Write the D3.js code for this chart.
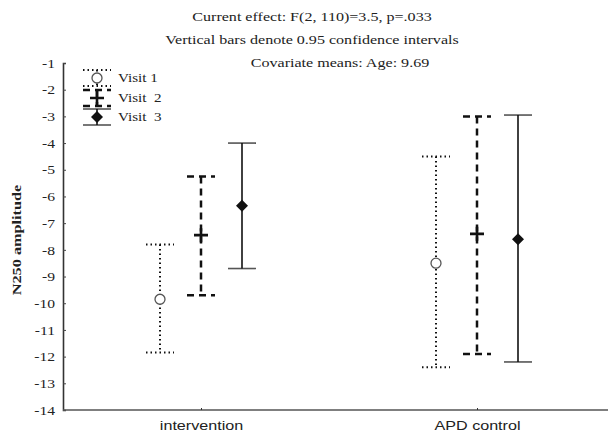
<!DOCTYPE html>
<html>
<head>
<meta charset="utf-8">
<script src="https://cdn.jsdelivr.net/npm/d3@7"></script>
<style>
  body { margin: 0; background: #fff; }
  svg { display: block; }
  .serif { font-family: "Liberation Serif", "DejaVu Serif", serif; }
</style>
</head>
<body>
<div id="chart"></div>
<script>
const groups = ["intervention", "APD control"];
const visits = ["Visit 1", "Visit  2", "Visit  3"];
const means = [[-9.85, -7.45, -6.35], [-8.5, -7.4, -7.6]];
const lower = [[-11.85, -9.7, -8.7], [-12.4, -11.9, -12.2]];
const upper = [[-7.8, -5.25, -4.0], [-4.5, -3.0, -2.95]];
const yTicks = d3.range(-1, -15, -1);

const width = 608, height = 438;
const svg = d3.select("#chart").append("svg")
    .attr("width", width)
    .attr("height", height);

const x = d3.scalePoint().domain(groups).range([63, 615]).padding(0.5);
const y = d3.scaleLinear().domain([-14, -1]).range([410, 63]);
const offset = d3.scalePoint().domain(visits).range([-41, 41]);

const styles = [
    { dash: "1.5,3", w: 2, cap: "#111" },
    { dash: "7,5", w: 2.5, cap: "#111" },
    { dash: null, w: 1.6, cap: "#555" }
];

// the source picture is stretched sideways, so widen the text to match
function stretch(sel, k) {
    sel.each(function () {
        const len = this.getComputedTextLength();
        d3.select(this).attr("textLength", len * k).attr("lengthAdjust", "spacingAndGlyphs");
    });
}

// titles
const titles = [
    { t: "Current effect: F(2, 110)=3.5, p=.033", x: 312, y: 21 },
    { t: "Vertical bars denote 0.95 confidence intervals", x: 312, y: 44 },
    { t: "Covariate means: Age: 9.69", x: 340, y: 67 }
];
const titleText = svg.selectAll("text.title").data(titles).enter().append("text")
    .attr("class", "title serif")
    .attr("x", d => d.x).attr("y", d => d.y)
    .attr("text-anchor", "middle")
    .attr("font-size", 13.5)
    .attr("fill", "#222")
    .text(d => d.t);
stretch(titleText, 1.19);

// y axis
const yAxis = svg.append("g")
    .attr("transform", "translate(63,0)")
    .call(d3.axisLeft(y).tickValues(yTicks).tickSize(-3).tickPadding(8).tickFormat(d3.format("d")));
yAxis.select(".domain").attr("stroke", "#333").attr("stroke-width", 1.6);
yAxis.selectAll(".tick line").attr("stroke", "#444");
const yLabels = yAxis.selectAll("text").attr("class", "serif").attr("font-size", 13).attr("fill", "#222")
    .text(d => "-" + Math.abs(d));
stretch(yLabels, 1.2);

// x axis
const xAxis = svg.append("g")
    .attr("transform", "translate(0,410)")
    .call(d3.axisBottom(x).tickSize(2).tickPadding(9).tickSizeOuter(0));
xAxis.select(".domain").attr("stroke", "#555").attr("stroke-width", 1.5)
    .attr("d", "M63,0H608");
xAxis.selectAll(".tick line").attr("stroke", "#333").attr("transform", "translate(0,-2)");
const xLabels = xAxis.selectAll("text")
    .attr("font-family", "Liberation Sans, Arial, sans-serif")
    .attr("font-size", 13).attr("fill", "#222");
stretch(xLabels, 1.24);

// y label
const yTitle = svg.append("text")
    .attr("class", "serif")
    .attr("transform", "translate(21,240) rotate(-90)")
    .attr("text-anchor", "middle")
    .attr("font-size", 12.5)
    .attr("font-weight", "bold")
    .attr("fill", "#222")
    .text("N250 amplitude");
stretch(yTitle, 1.3);

function marker(g, i, cx, cy) {
    if (i === 0) {
        g.append("circle").attr("cx", cx).attr("cy", cy).attr("r", 5)
            .attr("fill", "#fff").attr("stroke", "#555").attr("stroke-width", 1.3);
    } else if (i === 1) {
        g.append("path").attr("d", `M${cx - 7},${cy}H${cx + 7}M${cx},${cy - 7}V${cy + 7}`)
            .attr("stroke", "#111").attr("stroke-width", 2.6);
    } else {
        g.append("path").attr("d", `M${cx},${cy - 6}L${cx + 6},${cy}L${cx},${cy + 6}L${cx - 6},${cy}Z`)
            .attr("fill", "#111");
    }
}

function errBar(g, i, cx, y1, y2, half) {
    const s = styles[i];
    [y1, y2].forEach(yy => {
        g.append("line").attr("x1", cx - half).attr("x2", cx + half)
            .attr("y1", yy).attr("y2", yy)
            .attr("stroke", s.cap).attr("stroke-width", s.w)
            .attr("stroke-dasharray", s.dash);
    });
    g.append("line").attr("x1", cx).attr("x2", cx)
        .attr("y1", y1).attr("y2", y2)
        .attr("stroke", "#111").attr("stroke-width", s.w)
        .attr("stroke-dasharray", s.dash);
}

// bars
groups.forEach((grp, gi) => {
    visits.forEach((v, vi) => {
        const g = svg.append("g");
        const cx = x(grp) + offset(v);
        errBar(g, vi, cx, y(upper[gi][vi]), y(lower[gi][vi]), 14);
        marker(g, vi, cx, y(means[gi][vi]));
    });
});

// legend
const legendY = [78, 98, 117];
visits.forEach((v, vi) => {
    const g = svg.append("g");
    const cy = legendY[vi];
    errBar(g, vi, 97, cy - 8, cy + 8, 14);
    marker(g, vi, 97, cy);
    const t = g.append("text").attr("class", "serif")
        .attr("x", 118).attr("y", cy + 4)
        .attr("font-size", 13.5).attr("fill", "#222")
        .style("white-space", "pre")
        .text(v);
    stretch(t, 1.12);
});
</script>
</body>
</html>
